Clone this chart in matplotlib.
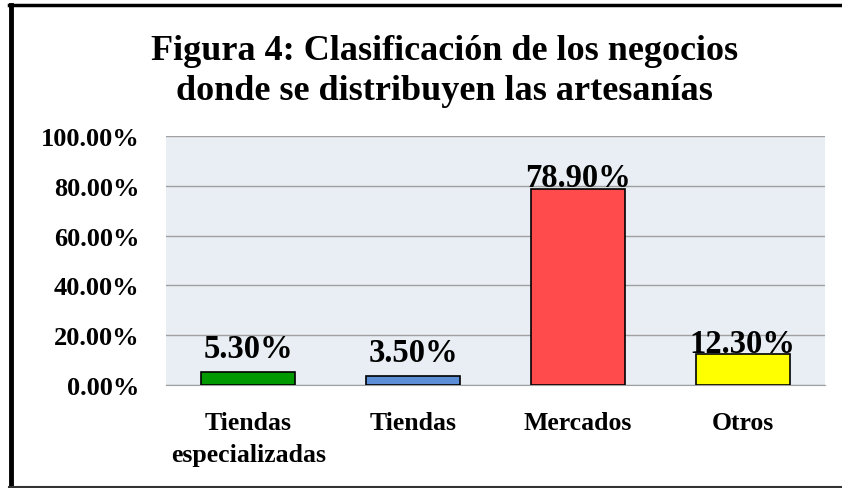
import matplotlib

matplotlib.use("Agg")
import matplotlib.pyplot as plt
from matplotlib.lines import Line2D

# values
categories = ["Tiendas\nespecializadas", "Tiendas", "Mercados", "Otros"]
shares = [5.30, 3.50, 78.90, 12.30]
tick_values = [0, 20, 40, 60, 80, 100]
title_text = "Figura 4: Clasificación de los negocios\ndonde se distribuyen las artesanías"

bar_colors = ["#009A00", "#5B8ED6", "#FF4B4B", "#FFFF00"]
label_pad_pt = [11, 11, 2, 2]

plt.rcParams["font.family"] = ["Liberation Serif", "DejaVu Serif"]
plt.rcParams["font.weight"] = "bold"

fig = plt.figure(figsize=(8.42, 4.89), dpi=100)
fig.patch.set_facecolor("white")
ax = fig.add_axes([0.197, 0.2106, 0.783, 0.5092])
ax.set_facecolor("#E8EEF3")

x = list(range(len(categories)))
bars = ax.bar(x, shares, width=0.57, color=bar_colors, edgecolor="black", linewidth=1.2, zorder=3)

for rect, val, pad in zip(bars, shares, label_pad_pt):
    ax.annotate(
        f"{val:.2f}%",
        (rect.get_x() + rect.get_width() / 2, rect.get_height()),
        xytext=(0, pad),
        textcoords="offset points",
        ha="center",
        va="baseline",
        fontsize=23.5,
        fontweight="bold",
        zorder=4,
    )

ax.set_xlim(-0.5, len(categories) - 0.5)
ax.set_ylim(0, 100)
ax.set_yticks(tick_values)
ax.set_yticklabels([f"{v:.2f}%" for v in tick_values], fontsize=19, fontweight="bold")
ax.set_xticks(x)
ax.set_xticklabels(categories, fontsize=18.5, fontweight="bold", linespacing=1.45)
ax.tick_params(axis="y", length=0, pad=19)
ax.tick_params(axis="x", length=0, pad=19)
ax.grid(axis="y", color="#A0A0A0", linewidth=1.0, zorder=1)
for side in ("left", "right", "top"):
    ax.spines[side].set_visible(False)
ax.spines["bottom"].set_color("#A0A0A0")

fig.text(0.528, 0.854, title_text, ha="center", va="center", fontsize=26, fontweight="bold", linespacing=1.3)

# outer frame of the original picture
fig.add_artist(Line2D([0.011, 1.0], [0.988, 0.988], color="black", linewidth=2.5, transform=fig.transFigure))
fig.add_artist(Line2D([0.013, 0.013], [0.0, 0.988], color="black", linewidth=3.5, transform=fig.transFigure))
fig.add_artist(Line2D([0.011, 1.0], [0.003, 0.003], color="#333333", linewidth=1.5, transform=fig.transFigure))

fig.savefig("out.png", dpi=100)
